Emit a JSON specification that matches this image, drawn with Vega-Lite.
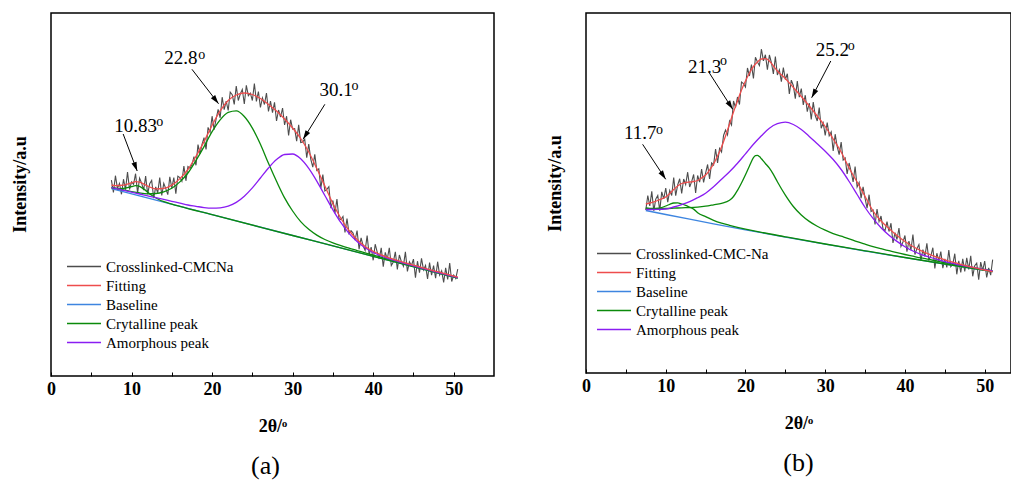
{
"$schema":"https://vega.github.io/schema/vega-lite/v6.json",
"background":"white",
"padding":{"left":10,"top":12,"right":0,"bottom":0},
"spacing":50,
"config":{"view":{"stroke":"black","strokeWidth":1.5},"font":"Liberation Serif","axis":{"labelColor":"black","titleColor":"black","tickColor":"black","grid":false}},
"resolve":{"scale":{"color":"independent"},"legend":{"color":"independent"}},
"datasets":{
"a_raw":[{"x":7.5,"y":195.8},{"x":7.75,"y":183.6},{"x":8,"y":200.3},{"x":8.25,"y":187.4},{"x":8.5,"y":192.6},{"x":8.75,"y":181.7},{"x":9,"y":196.8},{"x":9.25,"y":186.4},{"x":9.5,"y":204},{"x":9.75,"y":186.5},{"x":10,"y":194.1},{"x":10.25,"y":191.7},{"x":10.5,"y":202.3},{"x":10.75,"y":183.1},{"x":11,"y":197.8},{"x":11.25,"y":192.8},{"x":11.5,"y":185.9},{"x":11.75,"y":199.9},{"x":12,"y":181.9},{"x":12.25,"y":192.2},{"x":12.5,"y":195.5},{"x":12.75,"y":177.8},{"x":13,"y":189.1},{"x":13.25,"y":183.2},{"x":13.5,"y":198.4},{"x":13.75,"y":180.5},{"x":14,"y":192.6},{"x":14.25,"y":187.4},{"x":14.5,"y":181.3},{"x":14.75,"y":199.1},{"x":15,"y":187.9},{"x":15.25,"y":198.5},{"x":15.5,"y":182.2},{"x":15.75,"y":199.8},{"x":16,"y":198.4},{"x":16.25,"y":194.7},{"x":16.5,"y":210},{"x":16.75,"y":195.2},{"x":17,"y":209.5},{"x":17.25,"y":207.8},{"x":17.5,"y":211.1},{"x":17.75,"y":219.4},{"x":18,"y":210.7},{"x":18.25,"y":231.4},{"x":18.5,"y":222.1},{"x":18.75,"y":231.7},{"x":19,"y":238.4},{"x":19.25,"y":226.5},{"x":19.5,"y":248.6},{"x":19.75,"y":243.7},{"x":20,"y":259.8},{"x":20.25,"y":246.4},{"x":20.5,"y":257},{"x":20.75,"y":266.6},{"x":21,"y":258.2},{"x":21.25,"y":278.8},{"x":21.5,"y":266.4},{"x":21.75,"y":274.9},{"x":22,"y":265.5},{"x":22.25,"y":283.9},{"x":22.5,"y":281.3},{"x":22.75,"y":271.6},{"x":23,"y":290},{"x":23.25,"y":275.5},{"x":23.5,"y":282},{"x":23.75,"y":286.5},{"x":24,"y":272},{"x":24.25,"y":290.6},{"x":24.5,"y":280.3},{"x":24.75,"y":282.9},{"x":25,"y":275.5},{"x":25.25,"y":292.5},{"x":25.5,"y":274.5},{"x":25.75,"y":284.5},{"x":26,"y":268.5},{"x":26.25,"y":278},{"x":26.5,"y":271.5},{"x":26.75,"y":283},{"x":27,"y":264.5},{"x":27.25,"y":274.9},{"x":27.5,"y":263.3},{"x":27.75,"y":273.6},{"x":28,"y":255},{"x":28.25,"y":266},{"x":28.5,"y":259},{"x":28.75,"y":268},{"x":29,"y":251},{"x":29.25,"y":259.8},{"x":29.5,"y":240.5},{"x":29.75,"y":256.3},{"x":30,"y":247},{"x":30.25,"y":247.4},{"x":30.5,"y":234.8},{"x":30.75,"y":251.1},{"x":31,"y":233.5},{"x":31.25,"y":234.1},{"x":31.5,"y":236.8},{"x":31.75,"y":218.4},{"x":32,"y":232},{"x":32.25,"y":216.9},{"x":32.5,"y":208.8},{"x":32.75,"y":221.6},{"x":33,"y":205.5},{"x":33.25,"y":207.1},{"x":33.5,"y":187.8},{"x":33.75,"y":201.4},{"x":34,"y":185},{"x":34.25,"y":186.6},{"x":34.5,"y":189.3},{"x":34.75,"y":167.9},{"x":35,"y":175.5},{"x":35.25,"y":162.8},{"x":35.5,"y":177},{"x":35.75,"y":157.3},{"x":36,"y":156.5},{"x":36.25,"y":159.5},{"x":36.5,"y":143.5},{"x":36.75,"y":157.5},{"x":37,"y":142.5},{"x":37.25,"y":145.3},{"x":37.5,"y":143},{"x":37.75,"y":135.8},{"x":38,"y":145.5},{"x":38.25,"y":126.8},{"x":38.5,"y":138.1},{"x":38.75,"y":130.3},{"x":39,"y":125.6},{"x":39.25,"y":140.4},{"x":39.5,"y":121.2},{"x":39.75,"y":128.9},{"x":40,"y":115.7},{"x":40.25,"y":131.8},{"x":40.5,"y":123.9},{"x":40.75,"y":117},{"x":41,"y":128.1},{"x":41.25,"y":109.4},{"x":41.5,"y":123.6},{"x":41.75,"y":116.9},{"x":42,"y":128.1},{"x":42.25,"y":110.5},{"x":42.5,"y":113.9},{"x":42.75,"y":124.2},{"x":43,"y":106.6},{"x":43.25,"y":121},{"x":43.5,"y":114.4},{"x":43.75,"y":109.8},{"x":44,"y":124.2},{"x":44.25,"y":104.6},{"x":44.5,"y":114.1},{"x":44.75,"y":110.5},{"x":45,"y":116.9},{"x":45.25,"y":98.4},{"x":45.5,"y":114.8},{"x":45.75,"y":103.3},{"x":46,"y":117.7},{"x":46.25,"y":106.1},{"x":46.5,"y":110.6},{"x":46.75,"y":97},{"x":47,"y":113.4},{"x":47.25,"y":100.9},{"x":47.5,"y":110.4},{"x":47.75,"y":97.8},{"x":48,"y":114.3},{"x":48.25,"y":100.8},{"x":48.5,"y":105.2},{"x":48.75,"y":93.7},{"x":49,"y":108.1},{"x":49.25,"y":96.6},{"x":49.5,"y":113},{"x":49.75,"y":94.5},{"x":50,"y":100.9},{"x":50.25,"y":97.4},{"x":50.5,"y":106.9}],
"a_base":[{"x":7.5,"y":187.3},{"x":20,"y":161.3},{"x":30,"y":140.5},{"x":40,"y":119.7},{"x":50.5,"y":97.9}],
"a_g1":[{"x":7.5,"y":188.1},{"x":8,"y":187.6},{"x":8.5,"y":187.2},{"x":9,"y":187.6},{"x":9.5,"y":188.3},{"x":10,"y":189.4},{"x":10.5,"y":190.3},{"x":10.8,"y":190.2},{"x":11,"y":189.6},{"x":11.5,"y":187.1},{"x":12,"y":183.9},{"x":12.5,"y":180.8},{"x":13,"y":178.2},{"x":13.5,"y":176.0},{"x":14,"y":174.4},{"x":15,"y":171.9},{"x":16,"y":169.6},{"x":20,"y":161.3},{"x":30,"y":140.5},{"x":40,"y":119.7},{"x":50.5,"y":97.9}],
"a_g2":[{"x":7.5,"y":188.8},{"x":8,"y":187.8},{"x":9,"y":186.1},{"x":10,"y":184.4},{"x":11,"y":183.0},{"x":12,"y":182.2},{"x":13,"y":182.5},{"x":14,"y":184.2},{"x":15,"y":187.7},{"x":16,"y":194.1},{"x":17,"y":203.0},{"x":18,"y":215.5},{"x":19,"y":229.4},{"x":20,"y":244.3},{"x":21,"y":256.2},{"x":22,"y":263.6},{"x":23,"y":265.1},{"x":24,"y":259.5},{"x":25,"y":247.9},{"x":26,"y":231.8},{"x":27,"y":212.7},{"x":28,"y":194.7},{"x":29,"y":178.1},{"x":30,"y":165.0},{"x":31,"y":154.4},{"x":32,"y":146.7},{"x":33,"y":140.9},{"x":34,"y":136.5},{"x":35,"y":133.1},{"x":36,"y":130.3},{"x":37,"y":127.8},{"x":38,"y":125.5},{"x":39,"y":123.2},{"x":40,"y":120.9},{"x":41,"y":118.7},{"x":42,"y":116.5},{"x":43,"y":114.4},{"x":44,"y":112.2},{"x":45,"y":110.0},{"x":46,"y":107.9},{"x":47,"y":105.7},{"x":48,"y":103.7},{"x":49,"y":101.5},{"x":50,"y":99.4},{"x":50.5,"y":98.4}],
"a_amo":[{"x":7.5,"y":188.5},{"x":8,"y":187.6},{"x":9,"y":185.7},{"x":10,"y":183.8},{"x":11,"y":182.0},{"x":12,"y":180.1},{"x":13,"y":178.4},{"x":14,"y":176.6},{"x":15,"y":174.7},{"x":16,"y":172.9},{"x":17,"y":171.0},{"x":18,"y":169.7},{"x":19,"y":168.4},{"x":20,"y":167.8},{"x":21,"y":168.2},{"x":22,"y":169.9},{"x":23,"y":173.6},{"x":24,"y":179.8},{"x":25,"y":188.1},{"x":26,"y":198.0},{"x":27,"y":208.0},{"x":28,"y":216.4},{"x":29,"y":221.5},{"x":30,"y":222.0},{"x":31,"y":217.2},{"x":32,"y":207.6},{"x":33,"y":194.9},{"x":34,"y":180.5},{"x":35,"y":166.2},{"x":36,"y":153.3},{"x":37,"y":142.7},{"x":38,"y":134.5},{"x":39,"y":128.2},{"x":40,"y":123.5},{"x":41,"y":120.0},{"x":42,"y":117.1},{"x":43,"y":114.7},{"x":44,"y":112.4},{"x":45,"y":110.2},{"x":46,"y":108.0},{"x":47,"y":105.8},{"x":48,"y":103.7},{"x":49,"y":101.6},{"x":50,"y":99.4},{"x":50.5,"y":98.4}],
"a_fit":[{"x":7.5,"y":190.8},{"x":8,"y":190.3},{"x":9,"y":190.8},{"x":10,"y":193.1},{"x":10.5,"y":194.3},{"x":11,"y":193.8},{"x":12,"y":189.9},{"x":13,"y":187.1},{"x":14,"y":187.6},{"x":15,"y":190.9},{"x":16,"y":197.4},{"x":17,"y":206.5},{"x":18,"y":219.7},{"x":19,"y":234.4},{"x":20,"y":250.8},{"x":21,"y":265.2},{"x":22,"y":275.5},{"x":23,"y":281},{"x":24,"y":283},{"x":25,"y":281.5},{"x":26,"y":277.5},{"x":27,"y":271.5},{"x":28,"y":265},{"x":29,"y":257},{"x":30,"y":248},{"x":31,"y":237.5},{"x":32,"y":224},{"x":33,"y":207.5},{"x":34,"y":190},{"x":35,"y":172.5},{"x":36,"y":157.5},{"x":37,"y":145.5},{"x":38,"y":136.5},{"x":39,"y":129.6},{"x":40,"y":124.7},{"x":41,"y":121.1},{"x":42,"y":118.1},{"x":43,"y":115.6},{"x":44,"y":113.2},{"x":45,"y":110.9},{"x":46,"y":108.7},{"x":47,"y":106.4},{"x":48,"y":104.3},{"x":49,"y":102.1},{"x":50,"y":99.9},{"x":50.5,"y":98.9}],
"a_ann":[{"id":1,"lab":"10.83","tx":7.84,"ty":244,"ox":13.06,"oy":250,"x":8.96,"y":242,"x2":10.7,"y2":205},{"id":2,"lab":"22.8","tx":14.05,"ty":312,"ox":18.28,"oy":317,"x":17.5,"y":306.7,"x2":20.8,"y2":272.3},{"id":3,"lab":"30.1","tx":33.33,"ty":280,"ox":37.31,"oy":286,"x":34.0,"y":271.7,"x2":31.3,"y2":236.7}],
"b_raw":[{"x":7.5,"y":163},{"x":7.75,"y":177.5},{"x":8,"y":167},{"x":8.25,"y":181.6},{"x":8.5,"y":162.2},{"x":8.75,"y":173.9},{"x":9,"y":177.5},{"x":9.25,"y":162.4},{"x":9.5,"y":181.2},{"x":9.75,"y":174.1},{"x":10,"y":185},{"x":10.25,"y":170.8},{"x":10.5,"y":182.5},{"x":10.75,"y":177.5},{"x":11,"y":195.5},{"x":11.25,"y":177.3},{"x":11.5,"y":188},{"x":11.75,"y":194.3},{"x":12,"y":179.5},{"x":12.25,"y":194},{"x":12.5,"y":188.5},{"x":12.75,"y":200.8},{"x":13,"y":186},{"x":13.25,"y":191.3},{"x":13.5,"y":198.5},{"x":13.75,"y":180},{"x":14,"y":197.5},{"x":14.25,"y":190.8},{"x":14.5,"y":204},{"x":14.75,"y":190.5},{"x":15,"y":200},{"x":15.25,"y":208.5},{"x":15.5,"y":194},{"x":15.75,"y":210},{"x":16,"y":208},{"x":16.25,"y":224},{"x":16.5,"y":210},{"x":16.75,"y":224.5},{"x":17,"y":221},{"x":17.25,"y":237.5},{"x":17.5,"y":243},{"x":17.75,"y":238},{"x":18,"y":252},{"x":18.25,"y":248},{"x":18.5,"y":272},{"x":18.75,"y":265.5},{"x":19,"y":276},{"x":19.25,"y":268.5},{"x":19.5,"y":291},{"x":19.75,"y":289.5},{"x":20,"y":286},{"x":20.25,"y":305},{"x":20.5,"y":297},{"x":20.75,"y":308.3},{"x":21,"y":294.5},{"x":21.25,"y":315.8},{"x":21.5,"y":311},{"x":21.75,"y":307.5},{"x":22,"y":324},{"x":22.25,"y":312.2},{"x":22.5,"y":318.3},{"x":22.75,"y":303.2},{"x":23,"y":318},{"x":23.25,"y":310.5},{"x":23.5,"y":299},{"x":23.75,"y":316.5},{"x":24,"y":298},{"x":24.25,"y":303.1},{"x":24.5,"y":291.3},{"x":24.75,"y":305.4},{"x":25,"y":293.5},{"x":25.25,"y":299.3},{"x":25.5,"y":279},{"x":25.75,"y":292.8},{"x":26,"y":287.5},{"x":26.25,"y":274.3},{"x":26.5,"y":292},{"x":26.75,"y":275.8},{"x":27,"y":284.5},{"x":27.25,"y":268.1},{"x":27.5,"y":277.8},{"x":27.75,"y":261.4},{"x":28,"y":270},{"x":28.25,"y":253.5},{"x":28.5,"y":271},{"x":28.75,"y":257.5},{"x":29,"y":252},{"x":29.25,"y":265.4},{"x":29.5,"y":244.8},{"x":29.75,"y":250.1},{"x":30,"y":237.5},{"x":30.25,"y":250.4},{"x":30.5,"y":237.3},{"x":30.75,"y":241.1},{"x":31,"y":222},{"x":31.25,"y":238.8},{"x":31.5,"y":226.5},{"x":31.75,"y":218.3},{"x":32,"y":231},{"x":32.25,"y":213},{"x":32.5,"y":215},{"x":32.75,"y":199},{"x":33,"y":210},{"x":33.25,"y":201.5},{"x":33.5,"y":191},{"x":33.75,"y":206.5},{"x":34,"y":186},{"x":34.25,"y":190.4},{"x":34.5,"y":174.8},{"x":34.75,"y":186.1},{"x":35,"y":174.5},{"x":35.25,"y":164.9},{"x":35.5,"y":178.3},{"x":35.75,"y":161.6},{"x":36,"y":163},{"x":36.25,"y":148.5},{"x":36.5,"y":164},{"x":36.75,"y":151.5},{"x":37,"y":157},{"x":37.25,"y":144.1},{"x":37.5,"y":142.3},{"x":37.75,"y":151.4},{"x":38,"y":141.5},{"x":38.25,"y":149.8},{"x":38.5,"y":130},{"x":38.75,"y":140.3},{"x":39,"y":133.5},{"x":39.25,"y":145},{"x":39.5,"y":126.5},{"x":39.75,"y":131},{"x":40,"y":137.5},{"x":40.25,"y":121.3},{"x":40.5,"y":132},{"x":40.75,"y":122.8},{"x":41,"y":138.5},{"x":41.25,"y":118.5},{"x":41.5,"y":124.4},{"x":41.75,"y":128.4},{"x":42,"y":112.3},{"x":42.25,"y":123.4},{"x":42.5,"y":116.6},{"x":42.75,"y":129.7},{"x":43,"y":112.8},{"x":43.25,"y":117.1},{"x":43.5,"y":125.3},{"x":43.75,"y":104.6},{"x":44,"y":119.8},{"x":44.25,"y":112.2},{"x":44.5,"y":121.5},{"x":44.75,"y":104.9},{"x":45,"y":114.2},{"x":45.25,"y":105.6},{"x":45.5,"y":123},{"x":45.75,"y":106.4},{"x":46,"y":108.8},{"x":46.25,"y":119.3},{"x":46.5,"y":98.7},{"x":46.75,"y":112.2},{"x":47,"y":100.6},{"x":47.25,"y":114.1},{"x":47.5,"y":101.6},{"x":47.75,"y":115.1},{"x":48,"y":103.6},{"x":48.25,"y":117.2},{"x":48.5,"y":96.7},{"x":48.75,"y":107.3},{"x":49,"y":109.8},{"x":49.25,"y":93.4},{"x":49.5,"y":110.9},{"x":49.75,"y":102.5},{"x":50,"y":112},{"x":50.25,"y":95.6},{"x":50.5,"y":105.2},{"x":50.75,"y":97.8},{"x":51,"y":113.4}],
"b_base":[{"x":7.5,"y":162.5},{"x":10,"y":158.5},{"x":13,"y":153.8},{"x":16,"y":149.2},{"x":20,"y":143.2},{"x":25,"y":135.9},{"x":30,"y":128.8},{"x":35,"y":122.0},{"x":40,"y":115.3},{"x":45,"y":108.8},{"x":51,"y":101.4}],
"b_g1":[{"x":7.5,"y":164.5},{"x":8,"y":164.2},{"x":8.5,"y":164.2},{"x":9,"y":164.6},{"x":9.5,"y":165.5},{"x":10,"y":167},{"x":10.5,"y":168.7},{"x":11,"y":170},{"x":11.5,"y":170.2},{"x":12,"y":169},{"x":12.5,"y":167.6},{"x":13,"y":165.8},{"x":13.5,"y":163.9},{"x":14,"y":160.3},{"x":15,"y":156.3},{"x":16,"y":152.7},{"x":17,"y":149.9},{"x":18,"y":147.7},{"x":19,"y":145.7},{"x":20,"y":143.9},{"x":22,"y":140.6},{"x":25,"y":136.2},{"x":30,"y":129.0},{"x":35,"y":122.2},{"x":40,"y":115.5},{"x":45,"y":109.0},{"x":51,"y":101.5}],
"b_g2":[{"x":7.5,"y":165},{"x":8,"y":164.7},{"x":9,"y":164.6},{"x":10,"y":164.5},{"x":11,"y":164.8},{"x":12,"y":165.2},{"x":13,"y":165.4},{"x":14,"y":165.9},{"x":15,"y":166.8},{"x":16,"y":168.2},{"x":17,"y":169.7},{"x":18,"y":172.7},{"x":18.5,"y":176.5},{"x":19,"y":182.7},{"x":19.5,"y":190},{"x":20,"y":198.2},{"x":20.5,"y":207},{"x":21,"y":215.3},{"x":21.25,"y":217.3},{"x":21.5,"y":217.6},{"x":21.75,"y":216.4},{"x":22,"y":214.2},{"x":22.5,"y":209.5},{"x":23,"y":204.8},{"x":23.5,"y":198.6},{"x":24,"y":191.3},{"x":25,"y":177.9},{"x":26,"y":166.5},{"x":27,"y":158},{"x":28,"y":151.6},{"x":29,"y":146.7},{"x":30,"y":142.8},{"x":31,"y":139.4},{"x":32,"y":136.8},{"x":33,"y":134.2},{"x":34,"y":131.3},{"x":35,"y":128.8},{"x":36,"y":126.4},{"x":37,"y":124.3},{"x":38,"y":122.3},{"x":39,"y":120.3},{"x":40,"y":118.5},{"x":41,"y":116.8},{"x":42,"y":115.1},{"x":43,"y":113.6},{"x":44,"y":112},{"x":45,"y":110.4},{"x":46,"y":109},{"x":47,"y":107.5},{"x":48,"y":106.2},{"x":49,"y":104.85},{"x":50,"y":103.5},{"x":51,"y":102.2}],
"b_amo":[{"x":7.5,"y":163.7},{"x":8,"y":163.5},{"x":9,"y":163.6},{"x":10,"y":164},{"x":11,"y":166},{"x":12,"y":168.4},{"x":13,"y":171.3},{"x":14,"y":175.3},{"x":15,"y":179.8},{"x":16,"y":186.2},{"x":17,"y":193.7},{"x":18,"y":201.2},{"x":19,"y":209.7},{"x":20,"y":219.2},{"x":21,"y":228.7},{"x":22,"y":237.2},{"x":23,"y":244.8},{"x":24,"y":249.3},{"x":25,"y":250.9},{"x":26,"y":248.5},{"x":27,"y":243.5},{"x":28,"y":236.6},{"x":29,"y":229.2},{"x":30,"y":221.8},{"x":31,"y":213.5},{"x":32,"y":203.5},{"x":33,"y":191.5},{"x":34,"y":178.5},{"x":35,"y":165.5},{"x":36,"y":154.6},{"x":37,"y":145.3},{"x":38,"y":137.8},{"x":39,"y":131.6},{"x":40,"y":126.3},{"x":41,"y":122},{"x":42,"y":118.7},{"x":43,"y":116},{"x":44,"y":113.6},{"x":45,"y":111.4},{"x":46,"y":109.6},{"x":47,"y":107.8},{"x":48,"y":106.3},{"x":49,"y":104.85},{"x":50,"y":103.4},{"x":51,"y":102.1}],
"b_fit":[{"x":7.5,"y":169},{"x":8,"y":170},{"x":8.5,"y":171.2},{"x":9,"y":172.5},{"x":9.5,"y":174.2},{"x":10,"y":176},{"x":10.5,"y":179.5},{"x":11,"y":183.5},{"x":11.5,"y":187},{"x":12,"y":189.5},{"x":12.5,"y":190.5},{"x":13,"y":191},{"x":13.5,"y":191.5},{"x":14,"y":192.5},{"x":14.5,"y":195},{"x":15,"y":198},{"x":15.5,"y":203},{"x":16,"y":209},{"x":16.5,"y":217},{"x":17,"y":226},{"x":17.5,"y":237},{"x":18,"y":249},{"x":18.5,"y":261},{"x":19,"y":272},{"x":19.5,"y":283},{"x":20,"y":292},{"x":20.5,"y":300},{"x":21,"y":306.5},{"x":21.5,"y":311},{"x":22,"y":314},{"x":22.5,"y":314.3},{"x":23,"y":312},{"x":23.5,"y":307},{"x":24,"y":302},{"x":25,"y":294.5},{"x":26,"y":285.5},{"x":27,"y":276.5},{"x":28,"y":267},{"x":29,"y":257},{"x":30,"y":246.5},{"x":31,"y":234},{"x":32,"y":221},{"x":33,"y":205},{"x":34,"y":191},{"x":35,"y":176.5},{"x":36,"y":162},{"x":37,"y":152},{"x":38,"y":144.5},{"x":39,"y":137.5},{"x":40,"y":131.5},{"x":41,"y":126.5},{"x":42,"y":122.3},{"x":43,"y":118.8},{"x":44,"y":115.8},{"x":45,"y":113.2},{"x":46,"y":110.8},{"x":47,"y":108.6},{"x":48,"y":106.6},{"x":49,"y":104.8},{"x":50,"y":103},{"x":51,"y":101.4}],
"b_ann":[{"id":1,"lab":"11.7","tx":4.76,"ty":234,"ox":8.77,"oy":239,"x":7.1,"y":228.7,"x2":10.0,"y2":193.7},{"id":2,"lab":"21.3","tx":12.78,"ty":300,"ox":16.79,"oy":308,"x":15.45,"y":300.3,"x2":18.4,"y2":263.7},{"id":3,"lab":"25.2","tx":28.82,"ty":317,"ox":32.83,"oy":323,"x":30.7,"y":312,"x2":28.3,"y2":275.3}]
},
"hconcat":[
{
"width":443,"height":363,
"title":{"text":"(a)","orient":"bottom","anchor":"middle","fontSize":26,"font":"Liberation Serif","fontWeight":"normal","color":"black","offset":18,"dx":-7},
"encoding":{
"x":{"field":"x","type":"quantitative","scale":{"domain":[0,55],"nice":false,"zero":false},"axis":{"values":[0,5,10,15,20,25,30,35,40,45,50],"labelExpr":"datum.value % 10 === 0 ? datum.label : ''","tickSize":-4,"domain":false,"labelFlush":false,"labelFont":"Liberation Serif","labelFontWeight":"bold","labelFontSize":18,"labelPadding":8,"title":"2θ/ᵒ","titleFont":"Liberation Serif","titleFontSize":18,"titleFontWeight":"bold","titlePadding":19}},
"y":{"field":"y","type":"quantitative","scale":{"domain":[0,363],"nice":false,"zero":false},"axis":{"ticks":false,"labels":false,"domain":false,"title":"Intensity/a.u","titleFont":"Liberation Serif","titleFontSize":18,"titleFontWeight":"bold","titlePadding":22,"titleY":171}}
},
"layer":[
{"data":{"name":"a_raw"},"mark":{"type":"line","strokeWidth":1.1},"encoding":{"color":{"datum":"Crosslinked-CMCNa","scale":{"domain":["Crosslinked-CMCNa","Fitting","Baseline","Crytalline peak","Amorphous peak"],"range":["#4d4d4d","#ee4d4d","#3d85e0","#0b8a0b","#8a1df2"]},"legend":{"title":null,"orient":"none","legendX":15,"legendY":246,"symbolType":"stroke","symbolSize":1156,"symbolStrokeWidth":1.5,"labelFont":"Liberation Serif","labelFontSize":15,"labelColor":"black","labelOffset":4,"rowPadding":3,"clipHeight":15,"padding":0,"labelLimit":300}}}},
{"data":{"name":"a_base"},"mark":{"type":"line","strokeWidth":1.3,"interpolate":"monotone"},"encoding":{"color":{"datum":"Baseline"}}},
{"data":{"name":"a_g1"},"mark":{"type":"line","strokeWidth":1.3,"interpolate":"monotone"},"encoding":{"color":{"datum":"Crytalline peak"}}},
{"data":{"name":"a_g2"},"mark":{"type":"line","strokeWidth":1.3,"interpolate":"monotone"},"encoding":{"color":{"datum":"Crytalline peak"}}},
{"data":{"name":"a_amo"},"mark":{"type":"line","strokeWidth":1.3,"interpolate":"monotone"},"encoding":{"color":{"datum":"Amorphous peak"}}},
{"data":{"name":"a_fit"},"mark":{"type":"line","strokeWidth":1.3,"interpolate":"monotone"},"encoding":{"color":{"datum":"Fitting"}}},
{"data":{"name":"a_ann"},"mark":{"type":"rule","color":"black","strokeWidth":1},"encoding":{"x2":{"field":"x2"},"y2":{"field":"y2"}}},
{"data":{"name":"a_ann"},"transform":[{"filter":"datum.id == 1"}],"mark":{"type":"point","shape":"M0,0L0.6,2L-0.6,2Z","size":81,"filled":true,"color":"black","opacity":1,"angle":159.3},"encoding":{"x":{"field":"x2","type":"quantitative"},"y":{"field":"y2","type":"quantitative"}}},
{"data":{"name":"a_ann"},"transform":[{"filter":"datum.id == 2"}],"mark":{"type":"point","shape":"M0,0L0.6,2L-0.6,2Z","size":81,"filled":true,"color":"black","opacity":1,"angle":142.3},"encoding":{"x":{"field":"x2","type":"quantitative"},"y":{"field":"y2","type":"quantitative"}}},
{"data":{"name":"a_ann"},"transform":[{"filter":"datum.id == 3"}],"mark":{"type":"point","shape":"M0,0L0.6,2L-0.6,2Z","size":81,"filled":true,"color":"black","opacity":1,"angle":211.7},"encoding":{"x":{"field":"x2","type":"quantitative"},"y":{"field":"y2","type":"quantitative"}}},
{"data":{"name":"a_ann"},"mark":{"type":"text","align":"left","baseline":"alphabetic","font":"Liberation Serif","fontSize":19,"color":"black"},"encoding":{"x":{"field":"tx","type":"quantitative","title":"2θ/ᵒ"},"y":{"field":"ty","type":"quantitative","title":"Intensity/a.u"},"text":{"field":"lab"}}},
{"data":{"name":"a_ann"},"mark":{"type":"text","align":"left","baseline":"alphabetic","font":"Liberation Serif","fontSize":14,"color":"black","text":"o"},"encoding":{"x":{"field":"ox","type":"quantitative","title":"2θ/ᵒ"},"y":{"field":"oy","type":"quantitative","title":"Intensity/a.u"}}}
]
},
{
"width":425,"height":360,
"title":{"text":"(b)","orient":"bottom","anchor":"middle","fontSize":26,"font":"Liberation Serif","fontWeight":"normal","color":"black","offset":18,"dx":0},
"encoding":{
"x":{"field":"x","type":"quantitative","scale":{"domain":[0,53.3],"nice":false,"zero":false},"axis":{"values":[0,5,10,15,20,25,30,35,40,45,50],"labelExpr":"datum.value % 10 === 0 ? datum.label : ''","tickSize":-4,"domain":false,"labelFlush":false,"labelFont":"Liberation Serif","labelFontWeight":"bold","labelFontSize":18,"labelPadding":8,"title":"2θ/ᵒ","titleFont":"Liberation Serif","titleFontSize":18,"titleFontWeight":"bold","titlePadding":19}},
"y":{"field":"y","type":"quantitative","scale":{"domain":[0,360],"nice":false,"zero":false},"axis":{"ticks":false,"labels":false,"domain":false,"title":"Intensity/a.u","titleFont":"Liberation Serif","titleFontSize":18,"titleFontWeight":"bold","titlePadding":22,"titleY":170}}
},
"layer":[
{"data":{"name":"b_raw"},"mark":{"type":"line","strokeWidth":1.1},"encoding":{"color":{"datum":"Crosslinked-CMC-Na","scale":{"domain":["Crosslinked-CMC-Na","Fitting","Baseline","Crytalline peak","Amorphous peak"],"range":["#4d4d4d","#ee4d4d","#3d85e0","#0b8a0b","#8a1df2"]},"legend":{"title":null,"orient":"none","legendX":10,"legendY":233,"symbolType":"stroke","symbolSize":1156,"symbolStrokeWidth":1.5,"labelFont":"Liberation Serif","labelFontSize":15,"labelColor":"black","labelOffset":4,"rowPadding":3,"clipHeight":15,"padding":0,"labelLimit":300}}}},
{"data":{"name":"b_base"},"mark":{"type":"line","strokeWidth":1.3,"interpolate":"monotone"},"encoding":{"color":{"datum":"Baseline"}}},
{"data":{"name":"b_g1"},"mark":{"type":"line","strokeWidth":1.3,"interpolate":"monotone"},"encoding":{"color":{"datum":"Crytalline peak"}}},
{"data":{"name":"b_g2"},"mark":{"type":"line","strokeWidth":1.3,"interpolate":"monotone"},"encoding":{"color":{"datum":"Crytalline peak"}}},
{"data":{"name":"b_amo"},"mark":{"type":"line","strokeWidth":1.3,"interpolate":"monotone"},"encoding":{"color":{"datum":"Amorphous peak"}}},
{"data":{"name":"b_fit"},"mark":{"type":"line","strokeWidth":1.3,"interpolate":"monotone"},"encoding":{"color":{"datum":"Fitting"}}},
{"data":{"name":"b_ann"},"mark":{"type":"rule","color":"black","strokeWidth":1},"encoding":{"x2":{"field":"x2"},"y2":{"field":"y2"}}},
{"data":{"name":"b_ann"},"transform":[{"filter":"datum.id == 1"}],"mark":{"type":"point","shape":"M0,0L0.6,2L-0.6,2Z","size":81,"filled":true,"color":"black","opacity":1,"angle":146.3},"encoding":{"x":{"field":"x2","type":"quantitative"},"y":{"field":"y2","type":"quantitative"}}},
{"data":{"name":"b_ann"},"transform":[{"filter":"datum.id == 2"}],"mark":{"type":"point","shape":"M0,0L0.6,2L-0.6,2Z","size":81,"filled":true,"color":"black","opacity":1,"angle":147.4},"encoding":{"x":{"field":"x2","type":"quantitative"},"y":{"field":"y2","type":"quantitative"}}},
{"data":{"name":"b_ann"},"transform":[{"filter":"datum.id == 3"}],"mark":{"type":"point","shape":"M0,0L0.6,2L-0.6,2Z","size":81,"filled":true,"color":"black","opacity":1,"angle":207.4},"encoding":{"x":{"field":"x2","type":"quantitative"},"y":{"field":"y2","type":"quantitative"}}},
{"data":{"name":"b_ann"},"mark":{"type":"text","align":"left","baseline":"alphabetic","font":"Liberation Serif","fontSize":19,"color":"black"},"encoding":{"x":{"field":"tx","type":"quantitative","title":"2θ/ᵒ"},"y":{"field":"ty","type":"quantitative","title":"Intensity/a.u"},"text":{"field":"lab"}}},
{"data":{"name":"b_ann"},"mark":{"type":"text","align":"left","baseline":"alphabetic","font":"Liberation Serif","fontSize":14,"color":"black","text":"o"},"encoding":{"x":{"field":"ox","type":"quantitative","title":"2θ/ᵒ"},"y":{"field":"oy","type":"quantitative","title":"Intensity/a.u"}}}
]
}
]
}
